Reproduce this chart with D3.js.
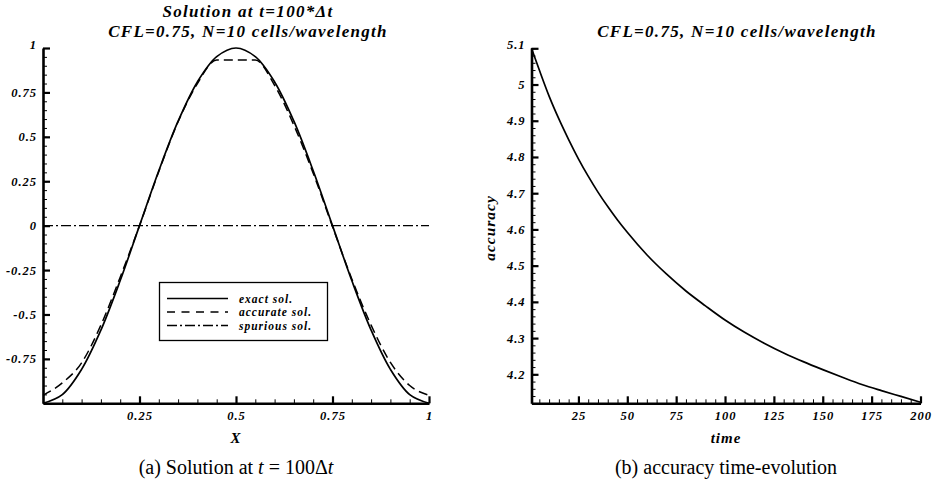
<!DOCTYPE html>
<html>
<head>
<meta charset="utf-8">
<script src="https://cdn.jsdelivr.net/npm/d3@7"></script>
<style>
  html, body { margin: 0; padding: 0; background: #fff; }
  svg { display: block; }
  .bi { font-family: "Liberation Serif", "Times New Roman", serif; font-weight: bold; font-style: italic; }
  .cap { font-family: "Liberation Serif", "Times New Roman", serif; }
</style>
</head>
<body>
<svg id="chart" width="937" height="493"></svg>
<script>
// ---------- data ----------
const solX       = [0, 0.05, 0.1, 0.15, 0.2, 0.25, 0.3, 0.35, 0.4, 0.45, 0.5, 0.55, 0.6, 0.65, 0.7, 0.75, 0.8, 0.85, 0.9, 0.95, 1];
const exactY     = [-1, -0.951, -0.809, -0.588, -0.309, 0, 0.309, 0.588, 0.809, 0.951, 1, 0.951, 0.809, 0.588, 0.309, 0, -0.309, -0.588, -0.809, -0.951, -1];
const accurateY  = [-0.955, -0.885, -0.772, -0.56, -0.29, 0, 0.305, 0.585, 0.8, 0.932, 0.932, 0.932, 0.79, 0.565, 0.295, -0.005, -0.3, -0.56, -0.77, -0.9, -0.955];
const spuriousX  = [0, 1];
const spuriousY  = [0, 0];

const timeX      = [1, 5, 10, 15, 20, 25, 30, 35, 40, 45, 50, 60, 70, 80, 90, 100, 110, 120, 130, 140, 150, 160, 170, 180, 190, 200];
const accuracyY  = [5.1, 5.04, 4.968, 4.905, 4.848, 4.795, 4.747, 4.703, 4.663, 4.626, 4.592, 4.53, 4.477, 4.43, 4.389, 4.35, 4.316, 4.286, 4.259, 4.235, 4.213, 4.192, 4.172, 4.155, 4.139, 4.123];

const leftXTicks  = [0.25, 0.5, 0.75, 1];
const leftYTicks  = [-0.75, -0.5, -0.25, 0, 0.25, 0.5, 0.75, 1];
const rightXTicks = [25, 50, 75, 100, 125, 150, 175, 200];
const rightYTicks = [4.2, 4.3, 4.4, 4.5, 4.6, 4.7, 4.8, 4.9, 5, 5.1];

const legendLabels = ["exact sol.", "accurate sol.", "spurious sol."];

// ---------- drawing ----------
const svg = d3.select("#chart");
const fmt = d => String(d);

function minorRange(a, b, step) {
  const out = [];
  for (let v = a; v <= b + 1e-9; v += step) out.push(+v.toFixed(6));
  return out;
}

function drawAxes(g, x, y, xt, yt, xMinor, yMinor, topY) {
  g.append("g").attr("transform", `translate(0,${y.range()[0]})`)
    .call(d3.axisBottom(x).tickValues(xMinor).tickSize(-4).tickSizeOuter(0).tickFormat(""))
    .call(s => s.select(".domain").remove())
    .call(s => s.selectAll("line").attr("stroke", "#000").attr("stroke-width", 1));
  g.append("g").attr("transform", `translate(${x.range()[0]},0)`)
    .call(d3.axisLeft(y).tickValues(yMinor).tickSize(-4).tickSizeOuter(0).tickFormat(""))
    .call(s => s.select(".domain").remove())
    .call(s => s.selectAll("line").attr("stroke", "#000").attr("stroke-width", 1));
  const gx = g.append("g").attr("transform", `translate(0,${y.range()[0]})`)
    .call(d3.axisBottom(x).tickValues(xt).tickSize(-7).tickSizeOuter(0).tickPadding(8).tickFormat(fmt));
  const gy = g.append("g").attr("transform", `translate(${x.range()[0]},0)`)
    .call(d3.axisLeft(y).tickValues(yt).tickSize(-7).tickSizeOuter(0).tickPadding(6).tickFormat(fmt));
  [gx, gy].forEach(s => {
    s.select(".domain").attr("stroke", "#000").attr("stroke-width", 2.6);
    s.selectAll(".tick line").attr("stroke", "#000").attr("stroke-width", 2.2);
    s.selectAll(".tick text").attr("class", "bi").attr("font-size", 12.5)
      .attr("letter-spacing", "1px").attr("fill", "#000");
  });
  gy.selectAll(".tick text").filter(d => d === topY).attr("dy", "0.05em");
}

// ---- left panel ----
const xL = d3.scaleLinear().domain([0, 1]).range([43, 429]);
const yL = d3.scaleLinear().domain([-1, 1]).range([403.3, 48]);
const gL = svg.append("g");

const lineL = (xs, ys, curve) => d3.line().x((d, i) => xL(xs[i])).y(d => yL(d)).curve(curve)(ys);

gL.append("path").attr("d", lineL(spuriousX, spuriousY, d3.curveLinear))
  .attr("fill", "none").attr("stroke", "#000").attr("stroke-width", 1.3).attr("stroke-dasharray", "10,3,2,3");
gL.append("path").attr("d", lineL(solX, accurateY, d3.curveMonotoneX))
  .attr("fill", "none").attr("stroke", "#000").attr("stroke-width", 1.5).attr("stroke-dasharray", "9,5");
gL.append("path").attr("d", lineL(solX, exactY, d3.curveCatmullRom))
  .attr("fill", "none").attr("stroke", "#000").attr("stroke-width", 1.7);

drawAxes(gL, xL, yL, leftXTicks, leftYTicks, minorRange(0, 1, 0.05), minorRange(-1, 1, 0.05), 1);

const titleAttrs = s => s.attr("class", "bi").attr("text-anchor", "middle").attr("font-size", 17).attr("letter-spacing", "1.3px");
gL.append("text").call(titleAttrs).attr("x", 248).attr("y", 17).text("Solution at t=100*Δt");
gL.append("text").call(titleAttrs).attr("x", 248).attr("y", 37).text("CFL=0.75, N=10 cells/wavelength");
gL.append("text").attr("class", "bi").attr("x", 236).attr("y", 443).attr("text-anchor", "middle")
  .attr("font-size", 15).attr("letter-spacing", "1px").text("X");

// legend
const lg = gL.append("g");
lg.append("rect").attr("x", 159.5).attr("y", 282.5).attr("width", 168).attr("height", 58)
  .attr("fill", "#fff").attr("stroke", "#000").attr("stroke-width", 1.3);
const dashes = [null, "8,6.5", "10,3,2,3"];
legendLabels.forEach((lab, i) => {
  const yy = 298.5 + i * 13.5;
  lg.append("line").attr("x1", 167).attr("x2", 228).attr("y1", yy).attr("y2", yy)
    .attr("stroke", "#000").attr("stroke-width", 1.4).attr("stroke-dasharray", dashes[i]);
  lg.append("text").attr("class", "bi").attr("x", 239).attr("y", yy + 4).attr("font-size", 11.5)
    .attr("letter-spacing", "1px").text(lab);
});

// ---- right panel ----
const xR = d3.scaleLinear().domain([1, 200]).range([531.5, 920.5]);
const yR = d3.scaleLinear().domain([4.12, 5.1]).range([403.3, 48.3]);
const gR = svg.append("g");
gR.append("path")
  .attr("d", d3.line().x((d, i) => xR(timeX[i])).y(d => yR(d)).curve(d3.curveMonotoneX)(accuracyY))
  .attr("fill", "none").attr("stroke", "#000").attr("stroke-width", 1.7);

drawAxes(gR, xR, yR, rightXTicks, rightYTicks, minorRange(5, 200, 5), minorRange(4.12, 5.1, 0.02), 5.1);

gR.append("text").call(titleAttrs).attr("x", 737).attr("y", 37).text("CFL=0.75, N=10 cells/wavelength");
gR.append("text").attr("class", "bi").attr("x", 726).attr("y", 443).attr("text-anchor", "middle")
  .attr("font-size", 15).attr("letter-spacing", "1px").text("time");
gR.append("text").attr("class", "bi").attr("transform", "translate(495,228) rotate(-90)").attr("text-anchor", "middle")
  .attr("font-size", 15.5).attr("letter-spacing", "1px").text("accuracy");

// ---- captions ----
const capA = svg.append("text").attr("class", "cap").attr("x", 236).attr("y", 474).attr("text-anchor", "middle").attr("font-size", 20);
capA.append("tspan").text("(a) Solution at ");
capA.append("tspan").attr("font-style", "italic").text("t");
capA.append("tspan").text(" = 100Δ");
capA.append("tspan").attr("font-style", "italic").text("t");
svg.append("text").attr("class", "cap").attr("x", 726).attr("y", 474).attr("text-anchor", "middle").attr("font-size", 20).text("(b) accuracy time-evolution");
</script>
</body>
</html>
